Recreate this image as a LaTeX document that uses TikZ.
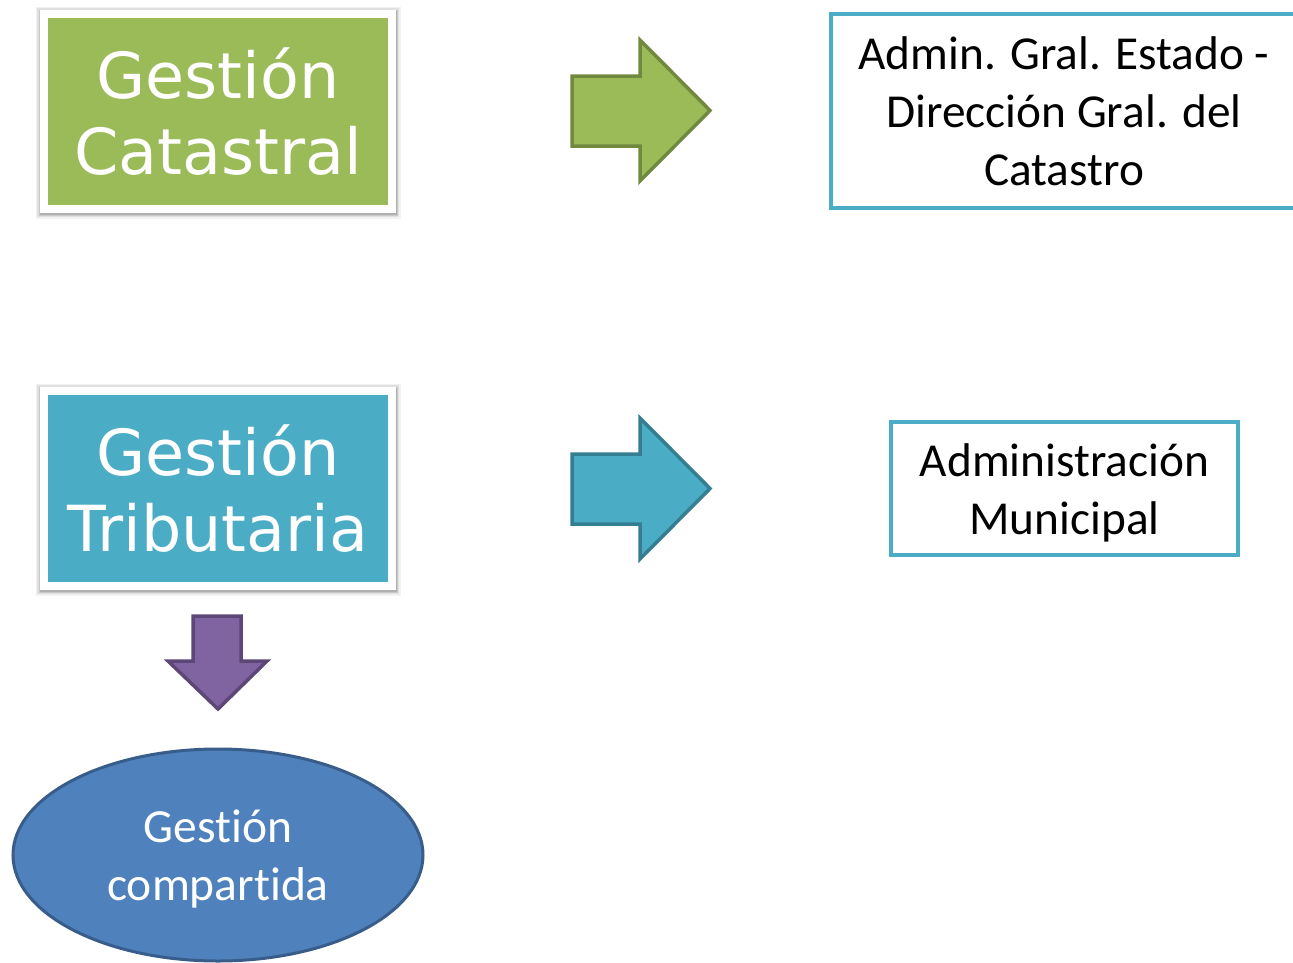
\documentclass[tikz,border=0pt]{standalone}
\usepackage{fontspec}
\setmainfont{Carlito}[Ligatures={NoCommon}]
\newfontfamily\boxfont{DejaVu Sans}
\usetikzlibrary{shapes.geometric}
\definecolor{cgreen}{HTML}{9BBB59}
\definecolor{cgreenD}{HTML}{71893F}
\definecolor{cblue}{HTML}{4BACC6}
\definecolor{cblueD}{HTML}{357D91}
\definecolor{cpurple}{HTML}{8064A2}
\definecolor{cpurpleD}{HTML}{5C4776}
\definecolor{cell}{HTML}{4F81BD}
\definecolor{cellD}{HTML}{385D8A}
\tikzset{
  bigbox/.style={draw=white, line width=8pt, minimum width=348pt, minimum height=195pt,
    inner sep=0pt, text=white, align=center,
    font=\boxfont\fontsize{63.5}{76}\selectfont,
    preaction={draw=black, line width=17pt, opacity=0.05, transform canvas={yshift=-1pt}},
    preaction={draw=black, line width=14pt, opacity=0.07, transform canvas={yshift=-1pt}},
    preaction={draw=black, line width=11pt, opacity=0.10, transform canvas={yshift=-1pt}},
    preaction={draw=black, line width=9pt, opacity=0.12, transform canvas={yshift=-1pt}}},
  outbox/.style={draw=cblue, line width=4pt, fill=white, inner sep=0pt, align=center,
    text=black, font=\fontsize{47.3}{58}\selectfont},
  plaintext/.style={inner sep=0pt, align=center, font=\fontsize{47.3}{58}\selectfont},
  blockarrow/.style={line width=3.5pt, line join=miter}
}
\begin{document}
\begin{tikzpicture}[x=1pt,y=-1pt]
\clip (0,0) rectangle (1293,962);
\fill[white] (0,0) rectangle (1293,962);

% left boxes
\node[bigbox, fill=cgreen] (gc) at (218,111.5) {Gestión\\Catastral};
\node[bigbox, fill=cblue] (gt) at (218,488.5) {Gestión\\Tributaria};

% right boxes
\node[outbox, minimum width=466pt, minimum height=194pt] (ad) at (1064,111) {Admin. Gral. Estado -\\Dirección Gral. del\\Catastro};
\node[outbox, minimum width=347pt, minimum height=133pt] (am) at (1064.5,488.5) {};
\node[plaintext, text=black] (amt) at ([yshift=-4pt]am.center) {Administración\\Municipal};

% block arrows right
\draw[blockarrow, fill=cgreen, draw=cgreenD]
  (572,76) -- (640,76) -- (640,40) -- (710,110.5) -- (640,181) -- (640,146) -- (572,146) -- cycle;
\draw[blockarrow, fill=cblue, draw=cblueD]
  (572,454) -- (640,454) -- (640,418) -- (710,488.5) -- (640,559) -- (640,524) -- (572,524) -- cycle;

% down arrow
\draw[blockarrow, fill=cpurple, draw=cpurpleD]
  (193,616) -- (241,616) -- (241,661) -- (267,661) -- (218,709) -- (168,661) -- (193,661) -- cycle;

% ellipse
\node[ellipse, draw=cellD, line width=3pt, fill=cell, minimum width=410pt, minimum height=212pt,
  inner sep=0pt] (gcomp) at (218,855) {};
\node[plaintext, text=white, font=\fontsize{47.5}{58}\selectfont] (gcompt) at ([yshift=-4pt]gcomp.center) {Gestión\\compartida};
\end{tikzpicture}
\end{document}
